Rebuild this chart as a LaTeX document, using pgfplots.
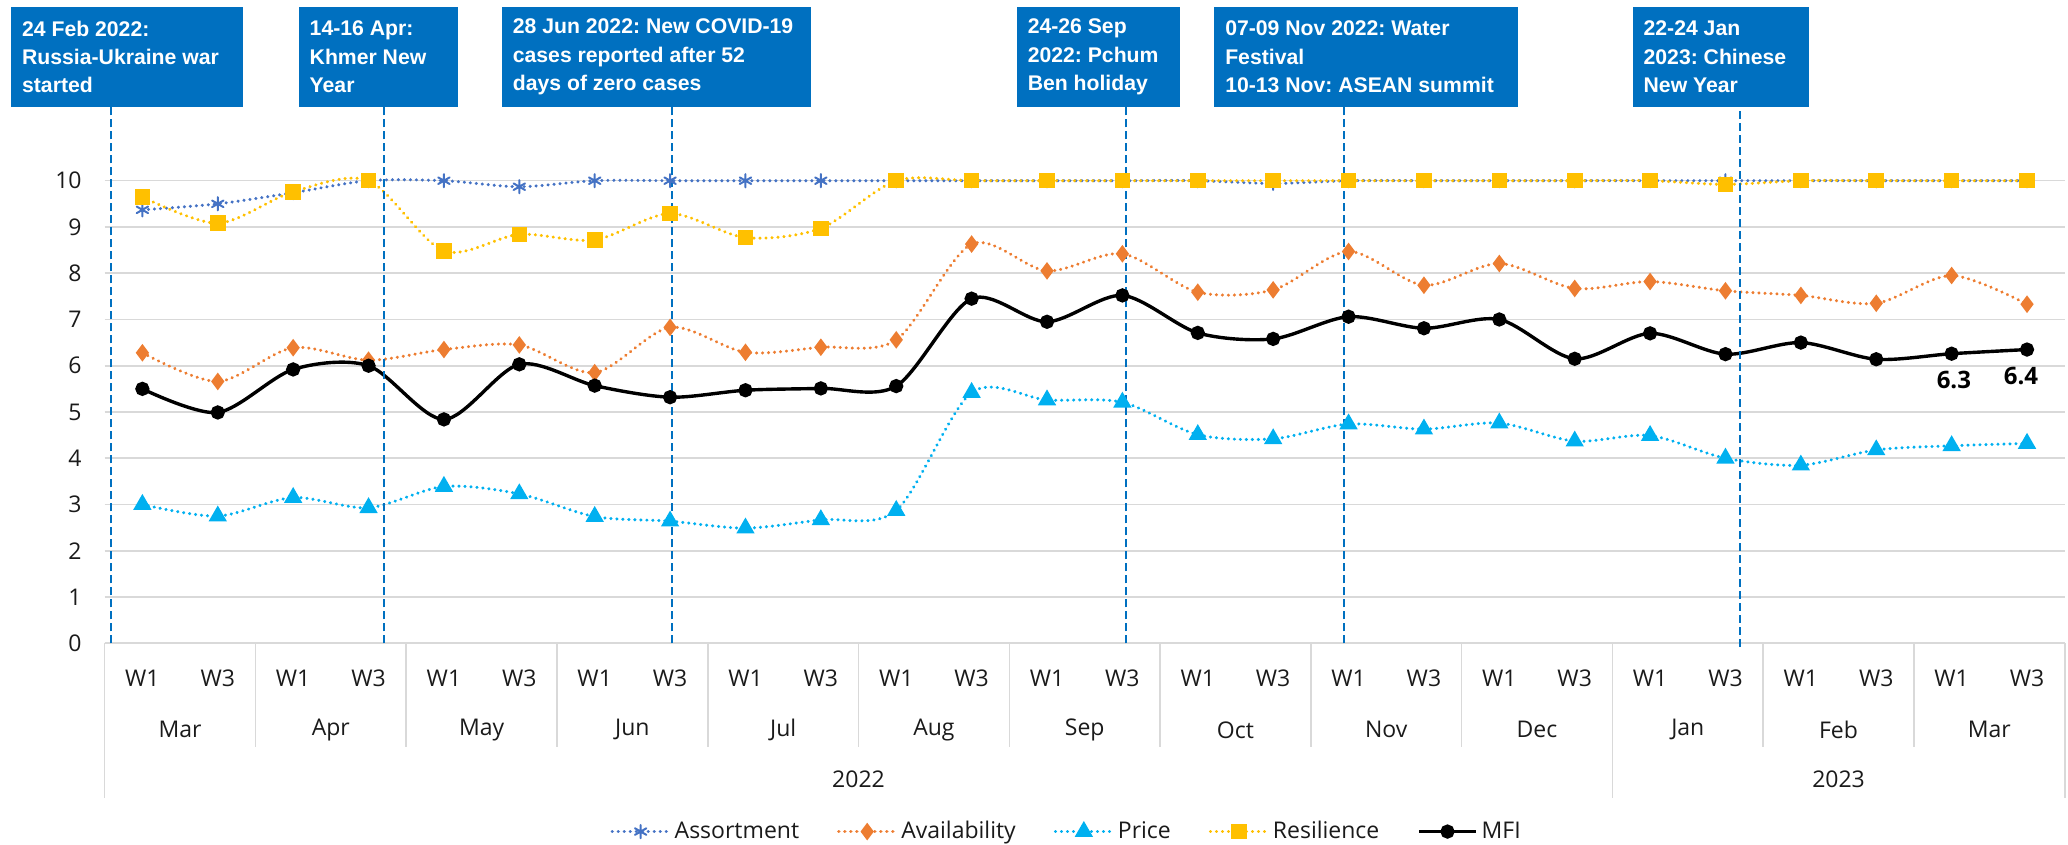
\documentclass[border=0pt]{standalone}
\usepackage{fontspec}
\setmainfont{Open Sans}
\newfontfamily\boxfont{Liberation Sans}
\usepackage{pgfplots}
\usepackage{pgfplotstable}
\pgfplotsset{compat=1.18}
\frenchspacing
\definecolor{cAss}{HTML}{4472C4}
\definecolor{cAva}{HTML}{ED7D31}
\definecolor{cPri}{HTML}{00B0F0}
\definecolor{cRes}{HTML}{FFC000}
\definecolor{cBox}{HTML}{0070C0}
\definecolor{cGrid}{HTML}{D9D9D9}
\definecolor{cTxt}{HTML}{1A1A1A}

\pgfplotstableread{
idx ass res ava pri mfi
0 9.37 9.65 6.28 3.00 5.50
1 9.50 9.08 5.66 2.75 4.99
2 9.74 9.76 6.39 3.15 5.92
3 10.00 10.00 6.12 2.93 6.00
4 10.00 8.48 6.35 3.39 4.84
5 9.87 8.84 6.45 3.23 6.03
6 10.00 8.72 5.85 2.74 5.57
7 10.00 9.29 6.83 2.64 5.32
8 10.00 8.77 6.29 2.49 5.47
9 10.00 8.97 6.40 2.67 5.51
10 10.00 10.00 6.56 2.87 5.56
11 10.00 10.00 8.63 5.42 7.45
12 10.00 10.00 8.05 5.26 6.95
13 10.00 10.00 8.42 5.21 7.52
14 10.00 10.00 7.59 4.51 6.71
15 9.94 10.00 7.64 4.42 6.58
16 10.00 10.00 8.47 4.74 7.06
17 10.00 10.00 7.74 4.63 6.81
18 10.00 10.00 8.21 4.76 7.00
19 10.00 10.00 7.67 4.37 6.15
20 10.00 10.00 7.82 4.49 6.70
21 10.00 9.92 7.62 4.00 6.25
22 10.00 10.00 7.52 3.85 6.50
23 10.00 10.00 7.35 4.18 6.14
24 10.00 10.00 7.95 4.27 6.26
25 10.00 10.00 7.33 4.32 6.35
}\data

\tikzset{dotline/.style={line width=1.6pt, dash pattern=on 0.1pt off 2.9pt, line cap=round},
  lbl/.style={font=\fontsize{11.5}{13}\selectfont, text=cTxt},
  sep/.style={cGrid, line width=0.8pt},
  evl/.style={cBox, line width=1pt, dash pattern=on 4pt off 2pt},
  evt/.style={anchor=west, align=left, inner sep=0pt, text=white,
  font=\boxfont\bfseries\fontsize{10.6}{14.15}\selectfont}}

\begin{document}
\frenchspacing
\begin{tikzpicture}
\useasboundingbox (-52.35pt,-100.85pt) rectangle (981.65pt,321.65pt);
\begin{axis}[
  at={(0pt,0pt)}, anchor=south west,
  scale only axis, width=980pt, height=231.3pt,
  xmin=-0.5, xmax=25.5, ymin=0, ymax=10,
  clip=false,
  axis line style={draw=none},
  ytick={0,1,...,10},
  ymajorgrids, grid style={cGrid, line width=0.8pt},
  major tick length=0pt,
  xtick={0,1,...,25},
  xticklabels={W1,W3,W1,W3,W1,W3,W1,W3,W1,W3,W1,W3,W1,W3,W1,W3,W1,W3,W1,W3,W1,W3,W1,W3,W1,W3},
  x tick label style={anchor=center, yshift=-17.35pt},
  yticklabel style={anchor=east, xshift=-8pt},
  tick label style={font=\fontsize{11.5}{13}\selectfont, text=cTxt},
  /pgf/number format/assume math mode=true,
  legend style={at={(0.4913,-0.407)}, anchor=center, draw=none, fill=none,
    legend columns=5, font=\fontsize{11.5}{13}\selectfont, text=cTxt,
    /tikz/every even column/.append style={column sep=17pt}},
  legend image code/.code={\draw[mark repeat=2,mark phase=2,#1] plot coordinates {(0cm,0cm) (0.5cm,0cm) (1cm,0cm)};},
]
\addplot[cAss, dotline, smooth, mark=asterisk, mark size=3.3pt, mark options={solid, line width=1pt}] table[x=idx,y=ass] {\data};
\addlegendentry{Assortment}
\addplot[cAva, dotline, smooth, mark=diamond*, mark size=3.1pt, mark options={solid}] table[x=idx,y=ava] {\data};
\addlegendentry{Availability}
\addplot[cPri, dotline, smooth, mark=triangle*, mark size=3.7pt, mark options={solid}] table[x=idx,y=pri] {\data};
\addlegendentry{Price}
\addplot[cRes, dotline, smooth, mark=square*, mark size=3.1pt, mark options={solid}] table[x=idx,y=res] {\data};
\addlegendentry{Resilience}
\addplot[black, line width=1.7pt, smooth, mark=*, mark size=2.7pt, mark options={solid}] table[x=idx,y=mfi] {\data};
\addlegendentry{MFI}

% data labels
\node[font=\fontsize{12}{14}\bfseries\selectfont, text=black] at (axis cs:24.03,5.69) {6.3};
\node[font=\fontsize{12}{14}\bfseries\selectfont, text=black] at (axis cs:24.92,5.78) {6.4};

% category axis separators
\pgfplotsinvokeforeach{1.5,3.5,5.5,7.5,9.5,11.5,13.5,15.5,17.5,21.5,23.5}{
  \draw[sep] (axis cs:#1,0) -- (axis cs:#1,-2.235);
}
\pgfplotsinvokeforeach{-0.5,19.5,25.5}{
  \draw[sep] (axis cs:#1,0) -- (axis cs:#1,-3.34);
}
% month labels
\node[lbl] at (axis cs:0.5,-1.87) {Mar};
\node[lbl] at (axis cs:2.5,-1.87) {Apr};
\node[lbl] at (axis cs:4.5,-1.87) {May};
\node[lbl] at (axis cs:6.5,-1.87) {Jun};
\node[lbl] at (axis cs:8.5,-1.87) {Jul};
\node[lbl] at (axis cs:10.5,-1.87) {Aug};
\node[lbl] at (axis cs:12.5,-1.87) {Sep};
\node[lbl] at (axis cs:14.5,-1.87) {Oct};
\node[lbl] at (axis cs:16.5,-1.87) {Nov};
\node[lbl] at (axis cs:18.5,-1.87) {Dec};
\node[lbl] at (axis cs:20.5,-1.87) {Jan};
\node[lbl] at (axis cs:22.5,-1.87) {Feb};
\node[lbl] at (axis cs:24.5,-1.87) {Mar};
\node[lbl] at (axis cs:9.5,-2.95) {2022};
\node[lbl] at (axis cs:22.5,-2.95) {2023};

% event lines
\pgfplotsinvokeforeach{-0.42,3.20,7.03,13.05,15.94}{
  \draw[evl] (axis cs:#1,0) -- (axis cs:#1,11.593);
}
\draw[evl] (axis cs:21.19,-0.08) -- (axis cs:21.19,11.593);

% event boxes
\fill[cBox] (axis cs:-1.74,11.593) rectangle (axis cs:1.33,13.755);
\node[evt] at ([xshift=5.25pt]axis cs:-1.74,12.674) {24 Feb 2022:\\Russia-Ukraine war\\started};
\fill[cBox] (axis cs:2.075,11.593) rectangle (axis cs:4.19,13.755);
\node[evt] at ([xshift=5.25pt]axis cs:2.075,12.674) {14-16 Apr:\\Khmer New\\Year};
\fill[cBox] (axis cs:4.77,11.593) rectangle (axis cs:8.865,13.755);
\node[evt] at ([xshift=5.25pt]axis cs:4.77,12.674) {28 Jun 2022: New COVID-19\\cases reported after 52\\days of zero cases};
\fill[cBox] (axis cs:11.60,11.593) rectangle (axis cs:13.76,13.755);
\node[evt] at ([xshift=5.25pt]axis cs:11.60,12.674) {24-26 Sep\\2022: Pchum\\Ben holiday};
\fill[cBox] (axis cs:14.22,11.593) rectangle (axis cs:18.25,13.755);
\node[evt] at ([xshift=5.25pt]axis cs:14.22,12.674) {07-09 Nov 2022: Water\\Festival\\10-13 Nov: ASEAN summit};
\fill[cBox] (axis cs:19.77,11.593) rectangle (axis cs:22.11,13.755);
\node[evt] at ([xshift=5.25pt]axis cs:19.77,12.674) {22-24 Jan\\2023: Chinese\\New Year};
\end{axis}
\end{tikzpicture}
\end{document}
